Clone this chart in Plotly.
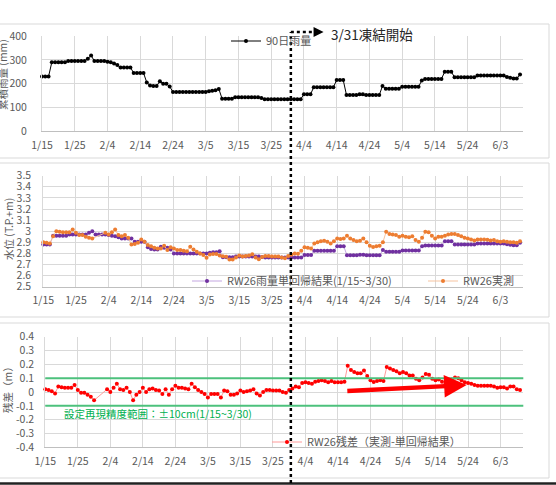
"""
Three stacked panels: 90-day rainfall, groundwater level (model vs observed), residual
"""
import pandas
import plotly.graph_objects as go

W, H = 556, 485
START = '2020-01-15'
N_DAYS = 147
dates = pandas.date_range(START, periods=N_DAYS, freq='D')

rain_90d = [
    230, 230, 230, 290, 290, 290, 290, 290, 295, 295,
    295, 295, 295, 295, 305, 318, 295, 295, 295, 295,
    292, 290, 285, 278, 268, 268, 268, 268, 245, 245,
    245, 245, 205, 192, 190, 190, 210, 200, 200, 188,
    165, 165, 165, 165, 165, 165, 165, 165, 165, 165,
    165, 168, 170, 172, 178, 137, 137, 137, 137, 143,
    143, 143, 143, 143, 143, 143, 143, 140, 135, 135,
    135, 135, 135, 135, 135, 135, 135, 135, 135, 135,
    155, 155, 155, 185, 185, 185, 185, 185, 185, 185,
    215, 215, 215, 152, 152, 152, 152, 155, 155, 152,
    152, 152, 152, 152, 190, 179, 179, 179, 179, 179,
    187, 187, 187, 187, 187, 187, 213, 220, 220, 220,
    220, 220, 220, 250, 250, 250, 227, 227, 227, 227,
    227, 227, 227, 234, 234, 234, 234, 234, 234, 234,
    234, 234, 228, 225, 222, 222, 238,
]

level_model = [
    2.88, 2.88, 2.88, 2.96, 2.96, 2.96, 2.96, 2.96, 2.97, 2.97,
    2.97, 2.97, 2.97, 2.97, 2.985, 3.0, 2.97, 2.97, 2.97, 2.97,
    2.965, 2.96, 2.955, 2.945, 2.935, 2.935, 2.935, 2.935, 2.905, 2.905,
    2.905, 2.905, 2.855, 2.84, 2.835, 2.835, 2.86, 2.85, 2.85, 2.835,
    2.80, 2.80, 2.80, 2.80, 2.80, 2.80, 2.80, 2.80, 2.80, 2.80,
    2.80, 2.805, 2.81, 2.81, 2.82, 2.765, 2.765, 2.765, 2.765, 2.772,
    2.772, 2.772, 2.772, 2.772, 2.772, 2.772, 2.772, 2.768, 2.762, 2.762,
    2.762, 2.762, 2.762, 2.762, 2.762, 2.762, 2.762, 2.762, 2.762, 2.762,
    2.785, 2.785, 2.785, 2.825, 2.825, 2.825, 2.825, 2.825, 2.825, 2.825,
    2.865, 2.865, 2.865, 2.783, 2.783, 2.783, 2.783, 2.787, 2.787, 2.783,
    2.783, 2.783, 2.783, 2.783, 2.83, 2.815, 2.815, 2.815, 2.815, 2.815,
    2.826, 2.826, 2.826, 2.826, 2.826, 2.826, 2.865, 2.872, 2.872, 2.872,
    2.872, 2.872, 2.872, 2.91, 2.91, 2.91, 2.88, 2.88, 2.88, 2.88,
    2.88, 2.88, 2.88, 2.889, 2.889, 2.889, 2.889, 2.889, 2.889, 2.889,
    2.889, 2.889, 2.882, 2.878, 2.874, 2.874, 2.895,
]

level_obs = [
    2.90, 2.895, 2.89, 2.955, 3.0, 2.995, 2.99, 2.99, 2.99, 3.015,
    2.985, 2.965, 2.965, 2.95, 2.94, 2.935, None, None, None, 2.985,
    2.97, 2.99, 3.015, 2.965, 2.955, 2.965, 2.94, 2.88, 2.885, 2.895,
    2.925, 2.905, 2.875, 2.865, 2.85, 2.845, 2.845, 2.87, 2.83, 2.855,
    2.845, 2.83, 2.83, 2.825, 2.82, 2.86, 2.835, 2.815, 2.80, 2.785,
    2.76, 2.79, 2.795, 2.795, 2.78, 2.775, 2.77, 2.745, 2.745, 2.762,
    2.782, 2.772, 2.777, 2.782, 2.792, 2.762, 2.747, 2.768, 2.777, 2.777,
    2.772, 2.772, 2.772, 2.762, 2.757, 2.777, 2.787, 2.80, 2.797, 2.825,
    2.855, 2.85, 2.845, 2.89, 2.90, 2.91, 2.915, 2.905, 2.89, 2.91,
    2.935, 2.93, 2.935, 2.96, 2.935, 2.92, 2.91, 2.915, 2.935, 2.90,
    2.87, 2.857, 2.865, 2.87, 2.90, 2.995, 2.975, 2.97, 2.965, 2.95,
    2.96, 2.95, 2.945, 2.955, 2.92, 2.905, 2.94, 2.995, 2.99, 2.96,
    2.935, 2.95, 2.95, 2.96, 2.97, 2.975, 2.975, 2.965, 2.955, 2.94,
    2.935, 2.925, 2.917, 2.925, 2.925, 2.925, 2.922, 2.917, 2.92, 2.91,
    2.905, 2.91, 2.905, 2.90, 2.90, 2.895, 2.91,
]

residual = [
    0.02, 0.015, 0.005, -0.01, 0.04, 0.035, 0.03, 0.03, 0.03, 0.05,
    0.015, -0.005, -0.005, -0.02, -0.035, -0.06, None, None, None, 0.02,
    0.0, 0.03, 0.06, 0.02, 0.015, 0.03, 0.0, -0.06, -0.02, 0.0,
    0.03, 0.0, 0.02, 0.025, 0.015, 0.01, -0.015, 0.02, -0.02, 0.02,
    0.045, 0.03, 0.03, 0.025, 0.02, 0.06, 0.035, 0.015, 0.0, -0.015,
    -0.04, -0.015, -0.015, -0.015, -0.04, 0.01, 0.005, -0.02, -0.02, -0.01,
    0.01, 0.0, 0.005, 0.01, 0.02, -0.01, -0.025, 0.0, 0.015, 0.015,
    0.01, 0.01, 0.01, 0.0, -0.005, 0.015, 0.025, 0.04, 0.035, 0.065,
    0.07, 0.065, 0.06, 0.075, 0.08, 0.085, 0.08, 0.07, 0.08, 0.07,
    0.07, 0.07, 0.075, 0.19, 0.16, 0.145, 0.135, 0.135, 0.155, 0.115,
    0.085, 0.072, 0.08, 0.085, 0.08, 0.18, 0.17, 0.16, 0.15, 0.135,
    0.145, 0.135, 0.12, 0.12, 0.095, 0.085, 0.105, 0.13, 0.125, 0.095,
    0.085, 0.09, 0.075, 0.05, 0.075, 0.09, 0.105, 0.1, 0.085, 0.07,
    0.065, 0.06, 0.05, 0.045, 0.045, 0.045, 0.045, 0.045, 0.04, 0.03,
    0.035, 0.035, 0.025, 0.04, 0.04, 0.02, 0.015,
]

resid_ticks = [-0.4, -0.3, -0.2, -0.1, 0, 0.1, 0.2, 0.3, 0.4]
resid_labels = ['-0.4', '-0.3', '-0.2', '-0.1', '0', '0.1', '0.2', '0.3', '0.4']
accuracy_band = 0.1
freeze_date = '2020-03-31'

FONT = 'Noto Sans CJK JP'
GREY = '#595959'
GRID = '#d9d9d9'
GREEN = '#4cc17c'


def px_x(p):
    return p / W


def px_y(p):
    return 1 - p / H


def legend_box(x, y):
    # legend anchored by its left edge / vertical middle, in pixels
    return dict(x=px_x(x), y=px_y(y), xanchor='left', yanchor='middle', xref='paper', yref='paper',
                bgcolor='rgba(0,0,0,0)', borderwidth=0, font=dict(size=11, color=GREY))


fig = go.Figure()
fig.add_trace(go.Scatter(x=dates, y=rain_90d, name='90日雨量', mode='lines+markers',
                         line=dict(color='#000000', width=1), marker=dict(color='#000000', size=4),
                         xaxis='x', yaxis='y', legend='legend', cliponaxis=False))
fig.add_trace(go.Scatter(x=dates, y=level_model, name='RW26雨量単回帰結果(1/15~3/30)', mode='lines+markers',
                         line=dict(color='#c3a6e0', width=1), marker=dict(color='#7030A0', size=4),
                         xaxis='x2', yaxis='y2', legend='legend2', cliponaxis=False))
fig.add_trace(go.Scatter(x=dates, y=level_obs, name='RW26実測', mode='lines+markers', connectgaps=True,
                         line=dict(color='#f6c39f', width=1), marker=dict(color='#ED7D31', size=4),
                         xaxis='x2', yaxis='y2', legend='legend3', cliponaxis=False))
fig.add_trace(go.Scatter(x=dates, y=residual, name='RW26残差（実測-単回帰結果）', mode='lines+markers',
                         connectgaps=True,
                         line=dict(color='#ff9a9a', width=1), marker=dict(color='#FF0000', size=4),
                         xaxis='x3', yaxis='y3', legend='legend4', cliponaxis=False))

xbase = dict(range=['2020-01-15', '2020-06-10'], tick0='2020-01-15', dtick=10 * 86400000,
             tickformat='%-m/%-d', showgrid=True, gridcolor=GRID, gridwidth=1, zeroline=False,
             showline=True, linecolor='#bfbfbf', ticks='outside', ticklen=4,
             tickcolor='rgba(0,0,0,0)', tickfont=dict(size=10.5, color=GREY), automargin=False)
ybase = dict(showgrid=True, gridcolor=GRID, gridwidth=1, zeroline=False, showline=True,
             linecolor='#d9d9d9', ticks='outside', tickcolor='rgba(0,0,0,0)',
             tickfont=dict(size=10.5, color=GREY), automargin=False)

fig.update_layout(
    width=W, height=H, margin=dict(l=0, r=0, t=0, b=0, autoexpand=False),
    paper_bgcolor='white', plot_bgcolor='white',
    font=dict(family=FONT, color=GREY),
    xaxis=dict(xbase, domain=[px_x(42), px_x(523.3)], anchor='y'),
    yaxis=dict(ybase, domain=[px_y(131.3), px_y(36)], range=[0, 400], dtick=100, ticklen=12, anchor='x'),
    xaxis2=dict(xbase, domain=[px_x(43.3), px_x(523.3)], anchor='y2'),
    yaxis2=dict(ybase, domain=[px_y(286.7), px_y(175.7)], range=[2.5, 3.5], dtick=0.1, ticklen=9,
                anchor='x2'),
    xaxis3=dict(xbase, domain=[px_x(45.3), px_x(523.3)], anchor='y3'),
    yaxis3=dict(ybase, domain=[px_y(447.3), px_y(336.7)], range=[-0.4, 0.4], tickvals=resid_ticks,
                ticktext=resid_labels, ticklen=8, anchor='x3'),
    legend=legend_box(226, 41),
    legend2=legend_box(187, 281),
    legend3=legend_box(423, 281),
    legend4=legend_box(267, 442),
    showlegend=True,
)

# panel frames
for top, bottom in [(24, 158), (163, 317), (323, 478)]:
    fig.add_shape(type='rect', xref='paper', yref='paper', x0=-0.01, x1=px_x(549),
                  y0=px_y(bottom), y1=px_y(top), line=dict(color=GRID, width=1), layer='below')
fig.add_shape(type='line', xref='paper', yref='paper', x0=0, x1=1, y0=px_y(483.5), y1=px_y(483.5),
              line=dict(color='#222222', width=2.5))

# accuracy band lines
for v in (accuracy_band, -accuracy_band):
    fig.add_shape(type='line', xref='x3 domain', yref='y3', x0=0, x1=1, y0=v, y1=v,
                  line=dict(color=GREEN, width=2))

# freeze start marker
fig.add_shape(type='line', xref='x', yref='paper', x0=freeze_date, x1=freeze_date,
              y0=px_y(483), y1=px_y(32), line=dict(color='#000000', width=2.5, dash='dot'))
fig.add_shape(type='line', xref='x', yref='paper', x0=freeze_date, x1='2020-04-07',
              y0=px_y(32), y1=px_y(32), line=dict(color='#000000', width=2.5, dash='dot'))
fig.add_annotation(x='2020-04-10', y=px_y(32), xref='x', yref='paper', ax=-10, ay=0,
                   showarrow=True, arrowhead=2, arrowsize=1, arrowwidth=2, arrowcolor='#000000', text='')
fig.add_annotation(x=px_x(329), y=px_y(34), xref='paper', yref='paper', xanchor='left', yanchor='middle',
                   text='3/31凍結開始', showarrow=False, font=dict(size=13.5, color='#262626'))

# trend arrow after freeze
fig.add_annotation(x='2020-05-23 14:00', y=0.05, xref='x3', yref='y3',
                   ax='2020-04-16 10:00', ay=0.007, axref='x3', ayref='y3',
                   showarrow=True, arrowhead=2, arrowsize=1, arrowwidth=4.5, arrowcolor='#ff0000', text='')

fig.add_annotation(x=px_x(62), y=px_y(413), xref='paper', yref='paper', xanchor='left', yanchor='middle',
                   text='設定再現精度範囲：±10cm(1/15~3/30)', showarrow=False,
                   font=dict(size=10.5, color='#00b050'))

# axis titles
for text, xp, yp in [('累積雨量 (mm)', 2, 75), ('水位 (T.P.+m)', 8, 229), ('残差（m）', 7, 387)]:
    fig.add_annotation(x=px_x(xp), y=px_y(yp), xref='paper', yref='paper', text=text, textangle=-90,
                       xanchor='center', yanchor='middle', borderpad=0, showarrow=False,
                       font=dict(size=10.5, color=GREY))

# page body has a default 8px margin; drop it so the figure sits at the window corner
fig.write_html('out.html', config={'displayModeBar': False},
               post_script="document.body.style.margin='0px';")
